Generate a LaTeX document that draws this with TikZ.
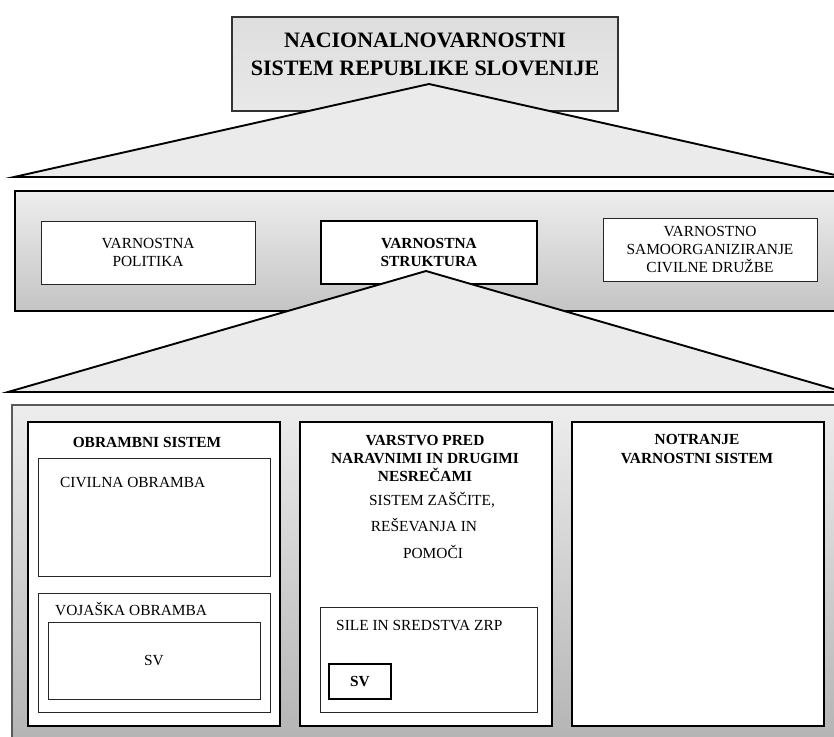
\documentclass[tikz,border=0pt]{standalone}
\usepackage{fontspec}
\setmainfont{Liberation Serif}
\usetikzlibrary{positioning}
\definecolor{roofgray}{gray}{0.92}
\definecolor{bandtop}{gray}{0.93}
\definecolor{bandbot}{gray}{0.77}
\definecolor{lowbot}{gray}{0.70}
\newcommand{\bodyfont}{\fontsize{15.4}{18.4}\selectfont}
\newcommand{\titlefont}{\fontsize{22}{28}\selectfont\bfseries}

\begin{document}
\begin{tikzpicture}[x=1pt,y=-1pt,
  box/.style={draw=black!85,line width=1pt,fill=white,inner sep=0pt,outer sep=0pt,
    font=\bodyfont,align=center},
  boldbox/.style={box,draw=black,line width=2.8pt,font=\bodyfont\bfseries},
  roof/.style={draw=black,line width=1.9pt,fill=roofgray,line join=miter},
  band/.style={draw=black,line width=1.8pt,top color=bandtop,bottom color=bandbot},
  txt/.style={inner sep=0pt,font=\bodyfont,text height=10.2pt,text depth=0pt},
  head/.style={inner sep=0pt,font=\bodyfont\bfseries,align=center}]
\useasboundingbox (0,0) rectangle (834,736);
\clip (0,0) rectangle (834,736);

% ---- top: national security system ----
\node[box,draw=black!80,line width=1.2pt,top color=black!13,bottom color=black!9,
  minimum width=386pt,minimum height=94pt] (nvs) at (425,64) {};
\node[inner sep=0pt,font=\titlefont,align=center] (nvstitle) at (425,54)
  {NACIONALNOVARNOSTNI\\SISTEM REPUBLIKE SLOVENIJE};
\coordinate (apexa) at (429,84);
\coordinate (roofal) at (14,177);
\coordinate (roofar) at (844,177);
\draw[roof] (roofal) -- (apexa) -- (roofar) -- cycle;

% ---- middle band ----
\draw[band] (15,191) rectangle (850,311);
\node[box,minimum width=214pt,minimum height=63pt] (politika) at (148,252.5)
  {VARNOSTNA\\POLITIKA};
\node[boldbox,minimum width=216pt,minimum height=63pt] (struktura) at (429,252.5)
  {VARNOSTNA\\STRUKTURA};
\node[box,minimum width=214pt,minimum height=63pt] (samoorg) at (710,249.5)
  {VARNOSTNO\\SAMOORGANIZIRANJE\\CIVILNE DRUŽBE};
\coordinate (apexb) at (426,271);
\coordinate (roofbl) at (8,392);
\coordinate (roofbr) at (844,392);
\draw[roof] (roofbl) -- (apexb) -- (roofbr) -- cycle;

% ---- bottom band: three subsystems ----
\draw[band,draw=black!65,line width=1.4pt,bottom color=lowbot] (12,405) rectangle (850,750);
\node[box,draw=black,line width=1.2pt,minimum width=252pt,minimum height=304pt] (obramba) at (154,574) {};
\node[box,draw=black,line width=1.2pt,minimum width=252pt,minimum height=304pt] (zrp) at (426,574) {};
\node[box,draw=black,line width=1.2pt,minimum width=252pt,minimum height=304pt] (notranje) at (698,574) {};

% left column
\node[head] (obrambahead) at (147,442) {OBRAMBNI SISTEM};
\node[box,minimum width=232pt,minimum height=118pt] (civilna) at (154,517) {};
\node[txt,anchor=west] (civilnatxt) at (60,482) {CIVILNA OBRAMBA};
\node[box,minimum width=232pt,minimum height=119pt] (vojaska) at (154,652.5) {};
\node[txt,anchor=west] (vojaskatxt) at (55,610) {VOJAŠKA OBRAMBA};
\node[box,minimum width=212pt,minimum height=77pt] (sva) at (154,660.5) {SV};

% middle column
\node[head] (zrphead) at (425,458.5) {VARSTVO PRED\\NARAVNIMI IN DRUGIMI\\NESREČAMI};
\node[txt] (zrpa) at (432,500) {SISTEM ZAŠČITE,};
\node[txt] (zrpb) at (424,526) {REŠEVANJA IN};
\node[txt] (zrpc) at (433,553) {POMOČI};
\node[box,minimum width=217pt,minimum height=105pt] (sile) at (428.5,659.5) {};
\node[txt,anchor=west] (siletxt) at (336,625) {SILE IN SREDSTVA ZRP};
\node[boldbox,line width=2.4pt,minimum width=62pt,minimum height=35pt] (svb) at (360,681.5) {SV};

% right column
\node[head] (notranjehead) at (697,449) {NOTRANJE\\VARNOSTNI SISTEM};
\end{tikzpicture}
\end{document}
